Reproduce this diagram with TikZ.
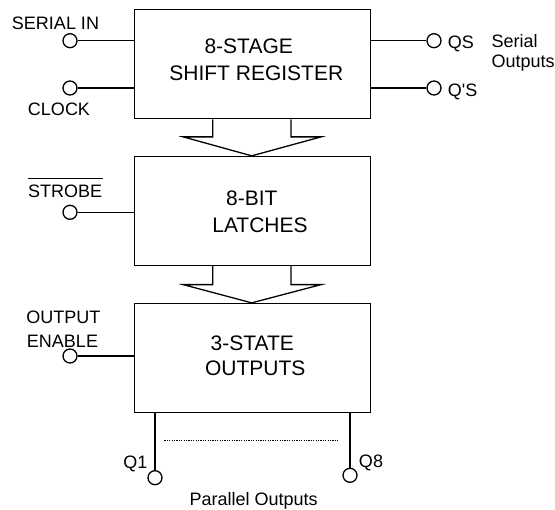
\documentclass[tikz,border=0pt]{standalone}
\usepackage{fontspec}
\newfontfamily\arial{Liberation Sans}
\usetikzlibrary{calc}
\begin{document}
\begin{tikzpicture}[x=1pt,y=-1pt,line width=1.3pt,
  block/.style={draw,rectangle,minimum width=236pt,minimum height=109pt,inner sep=0pt},
  pin/.style={draw,circle,minimum size=14pt,inner sep=0pt},
  lbl/.style={font=\arial\fontsize{18}{20}\selectfont,inner sep=0pt,anchor=base},
  lblw/.style={font=\arial\fontsize{18}{20}\selectfont,inner sep=0pt,anchor=base west},
  btxt/.style={font=\arial\fontsize{21}{24}\selectfont,inner sep=0pt,anchor=base},
  busarrow/.style={line join=miter}]
\useasboundingbox (0,0) rectangle (555,510);
% blocks
\node[block] (b1) at (252.5,64.25) {};
\node[block] (b2) at (252.5,211) {};
\node[block] (b3) at (252.5,358) {};
% block texts
\node[btxt] (t1a) at (248.7,54) {8-STAGE};
\node[btxt] (t1b) at (256.3,80.7) {SHIFT REGISTER};
\node[btxt] (t2a) at (251.8,206) {8-BIT};
\node[btxt] (t2b) at (260,232.7) {LATCHES};
\node[btxt] (t3a) at (252.3,351) {3-STATE};
\node[btxt] (t3b) at (255.3,375.7) {OUTPUTS};
% bus arrows
\draw[busarrow] ($(b1.south)+(-39.8,0)$) -- ++(0,17.5) -- ++(-29.4,0)
  -- ($(b2.north)+(-0.8,0)$) -- ($(b1.south)+(68.5,17.5)$) -- ($(b1.south)+(38.5,17.5)$) -- ($(b1.south)+(38.5,0)$);
\draw[busarrow] ($(b2.south)+(-39.8,0)$) -- ++(0,18.5) -- ++(-29.4,0)
  -- ($(b3.north)+(-0.8,0)$) -- ($(b2.south)+(68.5,18.5)$) -- ($(b2.south)+(38.5,18.5)$) -- ($(b2.south)+(38.5,0)$);
% input pins
\node[pin] (sin) at (70,40.7) {};
\node[pin] (clk) at (70,88) {};
\node[pin] (stb) at (70,212.3) {};
\node[pin] (oen) at (70,356) {};
\draw (sin.east) -- (sin.east -| b1.west);
\draw (clk.east) -- (clk.east -| b1.west);
\draw (stb.east) -- (stb.east -| b2.west);
\draw (oen.east) -- (oen.east -| b3.west);
\node[lbl] (lsin) at (55.5,29.5) {SERIAL IN};
\node[lbl] (lclk) at (59,115.5) {CLOCK};
\node[lbl] (lstb) at (65.2,198) {STROBE};
\draw[line width=1.1pt] ([yshift=6pt]lstb.north west) -- ([yshift=6pt]lstb.north east);
\node[lbl] (lout) at (63.3,324) {OUTPUT};
\node[lbl] (lena) at (62.5,347.7) {ENABLE};
% serial outputs
\node[pin] (qs) at (434,40.7) {};
\node[pin] (qps) at (434,88) {};
\draw (qs.west -| b1.east) -- (qs.west);
\draw (qps.west -| b1.east) -- (qps.west);
\node[lblw] (lqs) at (447.3,48.5) {QS};
\node[lblw] (lqps) at (447.3,96.5) {Q'S};
\node[lblw] (lser) at (491,47.7) {Serial};
\node[lblw] (lsero) at (491,68) {Outputs};
% parallel outputs
\node[pin] (q1) at (155,477.7) {};
\node[pin] (q8) at (350,475.3) {};
\draw (q1.north |- b3.south) -- (q1.north);
\draw (q8.north |- b3.south) -- (q8.north);
\coordinate (dl) at (164.3,440.7);
\coordinate (dr) at (338.3,440.7);
\draw[line width=1.5pt,dash pattern=on 1.2pt off 1.2pt] (dl) -- (dr);
\node[lbl] (lq1) at (135.3,468.3) {Q1};
\node[lbl] (lq8) at (371,467.7) {Q8};
\node[lbl] (lpar) at (253.7,506) {Parallel Outputs};
\end{tikzpicture}
\end{document}
